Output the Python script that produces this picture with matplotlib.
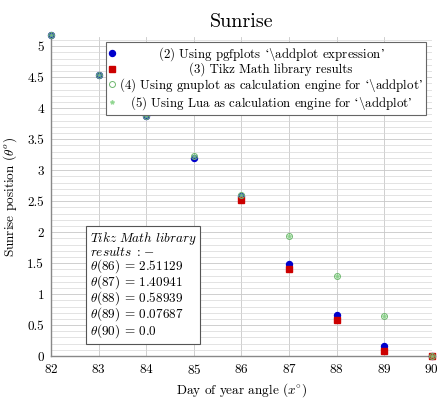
import numpy as np
import matplotlib
matplotlib.use("Agg")
import matplotlib.pyplot as plt
from matplotlib.ticker import MultipleLocator, FormatStrFormatter

plt.rcParams['font.family'] = ['cmr10', 'DejaVu Serif']
plt.rcParams['mathtext.fontset'] = 'cm'
plt.rcParams['axes.formatter.use_mathtext'] = True

# data
days = [82, 83, 84, 85, 86, 87, 88, 89, 90]
pgf_vals = [5.18, 4.53, 3.87, 3.20, 2.58, 1.48, 0.67, 0.16, 0.0]
tikz_days = [86, 87, 88, 89, 90]
tikz_vals = [2.51129, 1.40941, 0.58939, 0.07687, 0.0]
gnuplot_vals = [5.18, 4.53, 3.87, 3.23, 2.60, 1.94, 1.29, 0.65, 0.0]
lua_vals = [5.18, 4.53, 3.87, 3.23, 2.60, 1.94, 1.29, 0.65, 0.0]

lq = "$\u2018\\backslash$"
rq = "$\u2019$"
labels = ["(2) Using pgfplots " + lq + "addplot expression" + rq,
          "(3) Tikz Math library results",
          "(4) Using gnuplot as calculation engine for " + lq + "addplot" + rq,
          "(5) Using Lua as calculation engine for " + lq + "addplot" + rq]

fig = plt.figure(figsize=(4.47, 4.01), dpi=100)
ax = fig.add_axes([0.114, 0.112, 0.852, 0.796])

ax.plot(days, pgf_vals, 'o', color='#0000cc', ms=4.3, ls='none', clip_on=False, zorder=3, label=labels[0])
ax.plot(tikz_days, tikz_vals, 's', color='#cc0000', ms=4.3, ls='none', clip_on=False, zorder=3, label=labels[1])
ax.plot(days, gnuplot_vals, 'o', mfc='none', mec='#6fb86f', mew=0.7, ms=4.3, ls='none', clip_on=False, zorder=4, label=labels[2])
ax.plot(days, lua_vals, '*', color='#80d080', ms=3, alpha=0.7, ls='none', clip_on=False, zorder=4, label=labels[3])

ax.set_xlim(82, 90)
ax.set_ylim(0, 5.15)
ax.xaxis.set_major_locator(MultipleLocator(1))
ax.yaxis.set_major_locator(MultipleLocator(0.5))
ax.yaxis.set_minor_locator(MultipleLocator(0.1))
ax.yaxis.set_major_formatter(FormatStrFormatter('%g'))
ax.grid(which='major', color='#c8c8c8', lw=0.6)
ax.grid(which='minor', axis='y', color='#d8d8d8', lw=0.5)
ax.set_axisbelow(True)
ax.tick_params(which='both', length=0, labelsize=9.5, pad=5)

for s in ['top', 'right']:
    ax.spines[s].set_visible(False)
for s in ['left', 'bottom']:
    ax.spines[s].set_color('#888888')
    ax.spines[s].set_linewidth(1.0)

ax.set_title("Sunrise", fontsize=14.5, pad=7)
ax.set_xlabel(r"Day of year angle ($x^{\circ}$)", fontsize=9.5, labelpad=3)
ax.set_ylabel(r"Sunrise position ($\theta^o$)", fontsize=9.5, labelpad=6)

leg = ax.legend(loc='upper right', bbox_to_anchor=(0.985, 0.985), fontsize=9.3,
                fancybox=False, framealpha=1, edgecolor='#666666',
                handlelength=0.5, handletextpad=0.3, borderpad=0.25,
                labelspacing=0.0, borderaxespad=0)
leg.get_frame().set_linewidth(0.8)

# centre the legend texts like pgfplots does
fig.canvas.draw()
r = fig.canvas.get_renderer()
widths = [t.get_window_extent(r).width for t in leg.get_texts()]
wmax = max(widths)
for t, w in zip(leg.get_texts(), widths):
    t.set_x((wmax - w) / 2)

note = "\n".join([r"$\mathit{Tikz\ Math\ library}$",
                  r"$\mathit{results\ :\!-}$",
                  r"$\theta(86)$ = 2.51129",
                  r"$\theta(87)$ = 1.40941",
                  r"$\theta(88)$ = 0.58939",
                  r"$\theta(89)$ = 0.07687",
                  r"$\theta(90)$ = 0.0"])
ax.text(0.102, 0.395, note, transform=ax.transAxes, fontsize=9.5, va='top', ha='left',
        linespacing=0.87, zorder=5,
        bbox=dict(boxstyle='square,pad=0.3', fc='white', ec='#555555', lw=0.8))

fig.savefig("out.png", dpi=100)
